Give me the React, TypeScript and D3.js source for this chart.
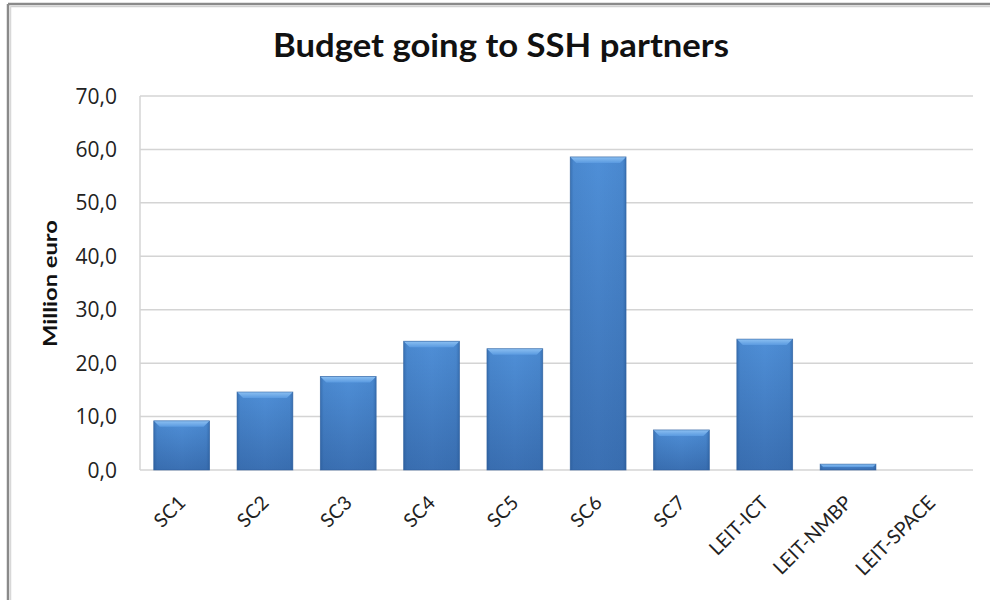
import React from "react";
import * as d3 from "d3";

const categories = ["SC1", "SC2", "SC3", "SC4", "SC5", "SC6", "SC7", "LEIT-ICT", "LEIT-NMBP", "LEIT-SPACE"];
const values = [9.2, 14.6, 17.5, 24.1, 22.7, 58.6, 7.5, 24.5, 1.1, 0];
const yTicks = [0, 10, 20, 30, 40, 50, 60, 70];
const title = "Budget going to SSH partners";
const yTitle = "Million euro";

const W = 990, H = 600;
const left = 140, right = 973, top = 96, bottom = 470;
const font = "Lato, 'Open Sans', sans-serif";
const numFont = "'Open Sans', Lato, sans-serif";

export default function App() {
  const x = d3.scaleBand<string>().domain(categories).range([left, right]).paddingInner(0.33).paddingOuter(0.165);
  const y = d3.scaleLinear().domain([0, 70]).range([bottom, top]);
  const fmt = (v: number) => d3.format(".1f")(v).replace(".", ",");
  const bw = x.bandwidth();
  return (
    <svg width={W} height={H} style={{ position: "absolute", left: 0, top: 0, background: "#fff" }}>
      <defs>
        <linearGradient id="gV" x1="0" y1="0" x2="0" y2="1">
          <stop offset="0" stopColor="#4f8fd7" />
          <stop offset="1" stopColor="#3b70b3" />
        </linearGradient>
        <linearGradient id="gH" x1="0" y1="0" x2="1" y2="0">
          <stop offset="0" stopColor="#1f4f8a" stopOpacity="0.45" />
          <stop offset="0.06" stopColor="#1f4f8a" stopOpacity="0.1" />
          <stop offset="0.5" stopColor="#1f4f8a" stopOpacity="0" />
          <stop offset="0.94" stopColor="#1f4f8a" stopOpacity="0.1" />
          <stop offset="1" stopColor="#1f4f8a" stopOpacity="0.45" />
        </linearGradient>
        <linearGradient id="gT" x1="0" y1="0" x2="0" y2="1">
          <stop offset="0" stopColor="#8cc0f2" />
          <stop offset="1" stopColor="#5a9ae0" />
        </linearGradient>
      </defs>
      {/* frame */}
      <line x1={8} y1={4} x2={W} y2={4} stroke="#8a8a8a" strokeWidth={2.5} />
      <line x1={10} y1={6.5} x2={W} y2={6.5} stroke="#d0d0d0" strokeWidth={1.5} />
      <line x1={8} y1={4} x2={8} y2={H} stroke="#8a8a8a" strokeWidth={2.5} />
      <line x1={10.5} y1={6} x2={10.5} y2={H} stroke="#d8d8d8" strokeWidth={1.5} />

      <text x={501} y={57} textAnchor="middle" fontFamily={font} fontWeight={700} fontSize={33} fill="#111"
        textLength={456} lengthAdjust="spacingAndGlyphs">{title}</text>

      {yTicks.map((t) => (
        <g key={t}>
          <line x1={left} x2={right} y1={y(t)} y2={y(t)} stroke="#d4d4d4" strokeWidth={1.5} />
          <text x={117} y={y(t) + 7.5} textAnchor="end" fontFamily={numFont} fontSize={21} fill="#222">{fmt(t)}</text>
        </g>
      ))}
      <line x1={left} x2={left} y1={top} y2={bottom} stroke="#d4d4d4" strokeWidth={1.5} />

      <text transform={`translate(57,${(220 + 347) / 2}) rotate(-90)`} textAnchor="middle" fontFamily={font}
        fontWeight={700} fontSize={19} fill="#111" textLength={127} lengthAdjust="spacingAndGlyphs">{yTitle}</text>

      {categories.map((c, i) => {
        const v = values[i];
        const x0 = x(c) as number;
        const yTop = y(v);
        const h = bottom - yTop;
        if (h <= 0) return null;
        const bev = Math.min(6, h / 2);
        return (
          <g key={c}>
            <rect x={x0} y={yTop} width={bw} height={h} fill="url(#gV)" />
            <rect x={x0} y={yTop} width={bw} height={h} fill="url(#gH)" />
            <polygon points={`${x0},${yTop} ${x0 + bw},${yTop} ${x0 + bw - bev},${yTop + bev} ${x0 + bev},${yTop + bev}`} fill="url(#gT)" />
            <rect x={x0} y={yTop} width={bw} height={h} fill="none" stroke="#2f5f9c" strokeWidth={0.8} strokeOpacity={0.7} />
          </g>
        );
      })}

      {categories.map((c) => {
        const cx = (x(c) as number) + bw / 2;
        return (
          <text key={c} transform={`translate(${cx + 5},${504}) rotate(-45)`} textAnchor="end" fontFamily={font}
            fontSize={19.5} fill="#222">{c}</text>
        );
      })}
    </svg>
  );
}
